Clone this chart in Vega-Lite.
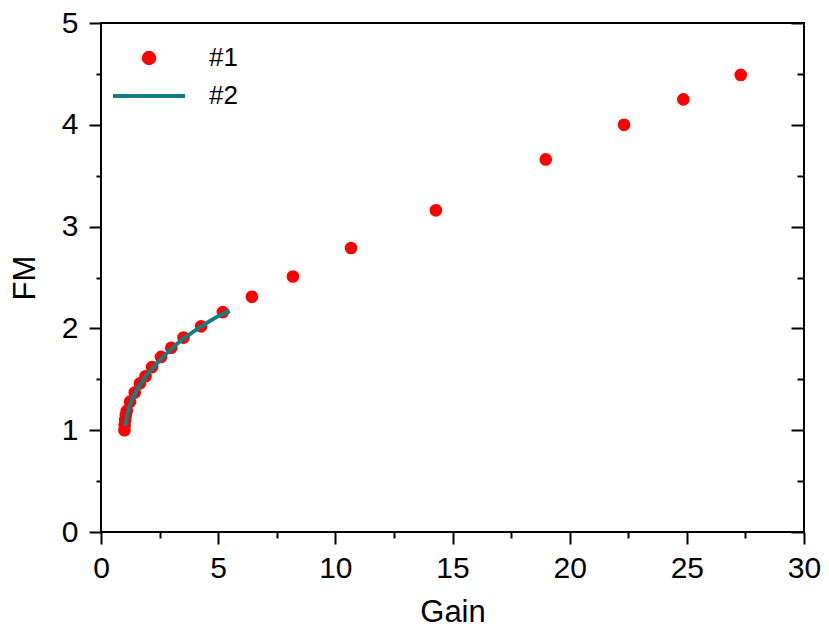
{
  "$schema": "https://vega.github.io/schema/vega-lite/v6.json",
  "autosize": "none",
  "width": 703,
  "height": 509,
  "padding": {"left": 101, "top": 23, "right": 25, "bottom": 97},
  "background": "white",
  "config": {
    "view": {"stroke": "black", "strokeWidth": 2},
    "font": "Liberation Sans",
    "axis": {
      "labelFont": "Liberation Sans",
      "titleFont": "Liberation Sans",
      "labelColor": "black",
      "titleColor": "black",
      "tickColor": "black",
      "tickWidth": 2,
      "grid": false,
      "domain": false,
      "labelFontSize": 30,
      "titleFontSize": 31,
      "titleFontWeight": "normal",
      "labelOverlap": false,
      "labelFlush": false
    },
    "legend": {
      "title": null,
      "orient": "none",
      "legendX": 35,
      "legendY": 22,
      "padding": 0,
      "symbolType": "M-4,0H4",
      "symbolSize": 324,
      "symbolStrokeWidth": 4,
      "labelFont": "Liberation Sans",
      "labelFontSize": 26,
      "labelColor": "black",
      "labelOffset": 47,
      "rowPadding": 11
    }
  },
  "datasets": {
    "measured": [
      {"gain": 1.0, "fm": 1.0, "series": "#1"},
      {"gain": 1.01, "fm": 1.05, "series": "#1"},
      {"gain": 1.03, "fm": 1.1, "series": "#1"},
      {"gain": 1.06, "fm": 1.15, "series": "#1"},
      {"gain": 1.1, "fm": 1.19, "series": "#1"},
      {"gain": 1.24, "fm": 1.28, "series": "#1"},
      {"gain": 1.44, "fm": 1.37, "series": "#1"},
      {"gain": 1.66, "fm": 1.46, "series": "#1"},
      {"gain": 1.9, "fm": 1.53, "series": "#1"},
      {"gain": 2.18, "fm": 1.62, "series": "#1"},
      {"gain": 2.56, "fm": 1.72, "series": "#1"},
      {"gain": 3.0, "fm": 1.81, "series": "#1"},
      {"gain": 3.52, "fm": 1.91, "series": "#1"},
      {"gain": 4.27, "fm": 2.02, "series": "#1"},
      {"gain": 5.2, "fm": 2.16, "series": "#1"},
      {"gain": 6.44, "fm": 2.31, "series": "#1"},
      {"gain": 8.19, "fm": 2.51, "series": "#1"},
      {"gain": 10.67, "fm": 2.79, "series": "#1"},
      {"gain": 14.29, "fm": 3.16, "series": "#1"},
      {"gain": 18.98, "fm": 3.66, "series": "#1"},
      {"gain": 22.32, "fm": 4.0, "series": "#1"},
      {"gain": 24.85, "fm": 4.25, "series": "#1"},
      {"gain": 27.3, "fm": 4.49, "series": "#1"}
    ],
    "fit": [
      {"gain": 1.04, "fm": 1.04, "series": "#2"},
      {"gain": 1.08, "fm": 1.1, "series": "#2"},
      {"gain": 1.15, "fm": 1.18, "series": "#2"},
      {"gain": 1.27, "fm": 1.27, "series": "#2"},
      {"gain": 1.45, "fm": 1.36, "series": "#2"},
      {"gain": 1.68, "fm": 1.45, "series": "#2"},
      {"gain": 1.95, "fm": 1.54, "series": "#2"},
      {"gain": 2.25, "fm": 1.62, "series": "#2"},
      {"gain": 2.65, "fm": 1.72, "series": "#2"},
      {"gain": 3.1, "fm": 1.82, "series": "#2"},
      {"gain": 3.65, "fm": 1.92, "series": "#2"},
      {"gain": 4.35, "fm": 2.03, "series": "#2"},
      {"gain": 5.0, "fm": 2.12, "series": "#2"},
      {"gain": 5.5, "fm": 2.17, "series": "#2"}
    ]
  },
  "layer": [
    {
      "data": {"name": "measured"},
      "mark": {"type": "point", "filled": true, "opacity": 1, "size": 160},
      "encoding": {
        "x": {
          "field": "gain", "type": "quantitative",
          "scale": {"domain": [0, 30], "nice": false},
          "axis": {
            "title": "Gain",
            "values": [0, 2.5, 5, 7.5, 10, 12.5, 15, 17.5, 20, 22.5, 25, 27.5, 30],
            "labelExpr": "datum.value % 5 === 0 ? format(datum.value, 'd') : ''",
            "tickSize": {"condition": {"test": "datum.value % 5 === 0", "value": 12}, "value": 6},
            "labelPadding": 9,
            "titlePadding": 14
          }
        },
        "y": {
          "field": "fm", "type": "quantitative",
          "scale": {"domain": [0, 5], "nice": false},
          "axis": {
            "title": "FM",
            "orient": "left",
            "values": [0, 0.5, 1, 1.5, 2, 2.5, 3, 3.5, 4, 4.5, 5],
            "labelExpr": "datum.value % 1 === 0 ? format(datum.value, 'd') : ''",
            "tickSize": {"condition": {"test": "datum.value % 1 === 0", "value": 12}, "value": 5},
            "labelPadding": 11,
            "titlePadding": 20
          }
        },
        "color": {
          "field": "series", "type": "nominal",
          "scale": {"domain": ["#1", "#2"], "range": ["#ff0000", "#127f7f"]},
          "legend": {
            "encode": {
              "symbols": {
                "update": {
                  "shape": {"signal": "datum.value === '#1' ? 'circle' : 'M-4,0H4'"},
                  "size": {"signal": "datum.value === '#1' ? 110 : 324"},
                  "fill": {"signal": "datum.value === '#1' ? '#ff0000' : 'transparent'"},
                  "stroke": {"signal": "datum.value === '#1' ? 'transparent' : '#127f7f'"},
                  "strokeWidth": {"value": 4},
                  "opacity": {"value": 1}
                }
              }
            }
          }
        }
      }
    },
    {
      "data": {"name": "fit"},
      "mark": {"type": "line", "strokeWidth": 4, "interpolate": "monotone"},
      "encoding": {
        "x": {"field": "gain", "type": "quantitative"},
        "y": {
          "field": "fm", "type": "quantitative",
          "scale": {"domain": [0, 5], "nice": false},
          "axis": {
            "orient": "right",
            "title": null,
            "labels": false,
            "values": [0, 0.5, 1, 1.5, 2, 2.5, 3, 3.5, 4, 4.5, 5],
            "tickSize": {"condition": {"test": "datum.value % 1 === 0", "value": -13}, "value": -7}
          }
        },
        "color": {
          "field": "series", "type": "nominal",
          "legend": {
            "encode": {
              "symbols": {
                "update": {
                  "shape": {"signal": "datum.value === '#1' ? 'circle' : 'M-4,0H4'"},
                  "size": {"signal": "datum.value === '#1' ? 110 : 324"},
                  "fill": {"signal": "datum.value === '#1' ? '#ff0000' : 'transparent'"},
                  "stroke": {"signal": "datum.value === '#1' ? 'transparent' : '#127f7f'"},
                  "strokeWidth": {"value": 4},
                  "opacity": {"value": 1}
                }
              }
            }
          }
        }
      }
    }
  ],
  "resolve": {"scale": {"y": "independent"}}
}
